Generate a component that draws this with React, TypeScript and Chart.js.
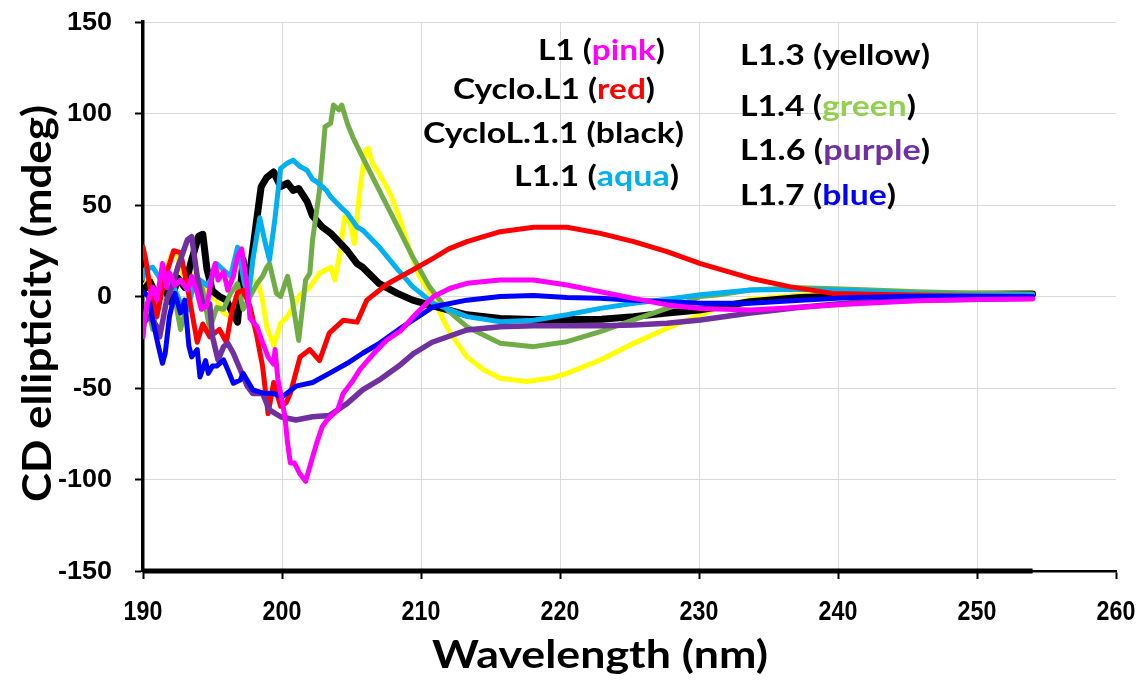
import React, { useEffect, useRef } from "react";
import { Chart, registerables } from "chart.js";

Chart.register(...registerables);

// ---- Data (wavelength nm / CD ellipticity mdeg) ----
const pinkX = [190, 190.1, 190.3, 190.7, 191.0, 191.4, 191.7, 191.9, 192.3, 192.7, 193.2, 193.5, 193.9, 194.2, 194.6, 195.0, 195.2, 195.4, 195.8, 196.1, 196.5, 196.8, 197.1, 197.5, 197.7, 198.2, 198.6, 199.0, 199.4, 199.5, 199.7, 200.0, 200.2, 200.4, 200.6, 200.9, 201.3, 201.7, 202.0, 202.5, 202.9, 203.3, 204.0, 204.4, 205.1, 205.6, 206.5, 207.5, 208.5, 209.7, 210.9, 212.1, 213.3, 215.7, 218.1, 220.5, 222.9, 225.3, 227.7, 230.1, 233.7, 237.3, 240.9, 245.7, 250, 254];
const pinkY = [-22, -13, -4, 5, -2, 18, 5, 13, 6, 9, 3.5, 11, 2, -7, -5, 13, 18, 9, 13.5, 3.5, 11, 22, 26, 5, -12, -16.5, -25, -33, -37, -29, -45, -57, -65, -80, -91, -91, -97, -101, -93, -80, -71, -67, -62, -53, -46, -40, -32, -24, -19, -9, 0, 4.5, 7.2, 9, 9, 6.3, 2.6, -1, -4.6, -6.5, -7.4, -5.9, -4.1, -2.3, -1.6, -1.4];

const redX = [190, 190.2, 190.5, 191, 191.5, 192.2, 192.7, 193.2, 193.9, 194.3, 194.8, 195.5, 196, 196.4, 196.8, 197.2, 197.7, 198.2, 198.6, 199, 199.4, 199.9, 200.3, 200.6, 201.3, 202, 202.7, 203.4, 204.4, 205.4, 206.1, 207.6, 209.4, 210.9, 212, 213.3, 215.7, 218.1, 220.5, 222.9, 225.3, 227.7, 230.1, 233.7, 236.5, 239.6, 245, 250, 254];
const redY = [27, 20, 5, -11, 8, 25, 24, 5, -25, -15, -22, -18, -25, -8, 2, 3.5, -5.5, -22, -38, -64, -47, -60, -58, -53, -33, -29, -35, -20, -13, -14, -2, 7, 14.5, 21, 26, 30, 35.4, 37.8, 37.8, 34.5, 30, 24.5, 18, 10, 5.4, 1.7, 0.8, 0.3, 0];

const blackX = [190, 190.5, 191, 191.5, 192, 192.5, 193, 193.5, 194, 194.3, 194.6, 195, 195.5, 196, 196.5, 196.8, 197.2, 197.5, 197.8, 198.2, 198.5, 198.9, 199.4, 199.9, 200.4, 200.8, 201.2, 201.8, 202.2, 202.9, 203.5, 204.2, 204.7, 205.4, 205.8, 207, 208.3, 209.4, 210.6, 212, 213.3, 215.7, 218, 220.5, 223, 225.3, 227.7, 230, 233.7, 237.3, 241, 245, 250, 254];
const blackY = [3, 8, 0, 5, -3, 10, 5, 20, 33, 34, 15, 3, 0, -2, -10, -14, 20, 2, 20, 43, 60, 65, 68, 60, 62, 58, 59, 52, 44, 38, 34.6, 29, 25, 18, 16, 7, 1.7, -2, -4.6, -7.4, -10, -12, -12.5, -12.5, -12.4, -11, -9, -7.4, -2.8, -0.5, 0.3, 1, 1.2, 1.4];

const aquaX = [190, 190.1, 190.7, 191.2, 191.7, 192.2, 192.7, 193.2, 193.6, 194.1, 194.6, 195, 195.3, 195.8, 196.3, 196.8, 197.3, 197.6, 197.9, 198.4, 198.8, 199.1, 199.5, 199.9, 200.4, 200.8, 201.3, 201.8, 202.2, 202.5, 203.2, 203.5, 204.2, 204.7, 205.4, 205.8, 207, 208.3, 209.4, 210.6, 210.9, 213.3, 215.7, 218.1, 220.5, 222.9, 225.3, 227.7, 230.1, 233.7, 237.3, 240.9, 245.7, 250, 254];
const aquaY = [10, 14.5, 16, 10, 14.5, 5.4, -3.6, -7.4, 5, 9, 6, 10.8, 18, 14.5, 11, 27, 7, 0, 20, 43, 29, 20, 43, 70, 73, 74.5, 71, 69, 64, 62.7, 58, 54.5, 49, 45.5, 38, 36.3, 27, 15, 5.4, -2, -3.7, -11, -13.8, -13, -10, -6.5, -3.7, -1.5, 1, 3.5, 3.9, 3.3, 1.7, 1, 0.8];

const yellowX = [190, 190.5, 191, 191.5, 192, 192.4, 192.8, 193.3, 193.8, 194.3, 194.8, 195.3, 195.8, 196.3, 196.8, 197.4, 197.9, 198.3, 198.6, 198.9, 199.4, 199.9, 200.4, 200.8, 201.3, 202, 202.7, 203.5, 203.8, 204.2, 204.5, 204.9, 205.2, 205.6, 206, 206.2, 206.5, 207, 207.8, 208.5, 209.2, 209.9, 210.9, 211.6, 212.1, 213.3, 214.5, 215.7, 217.6, 219.3, 220.5, 222.9, 225.3, 227.7, 230.1, 231.3, 233.7, 237.3, 241, 250, 254];
const yellowY = [5, 10, 2, 12, 22, 24, 10, 15, 5, 8, 0, -2, -9, -11, -5, 3, 9, 7, -2, -16.5, -27, -14.6, -11, -5.6, 1, 5, 12.7, 16, 9, 25, 43.6, 40, 29, 58, 80, 81, 73, 67, 56, 42, 25, 10.8, -1, -12.8, -20, -33, -40, -44.7, -46.5, -44.7, -42, -34.7, -25.6, -17.4, -10, -6.5, -1.5, 0.8, 1.4, 1.7, 1.5];

const greenX = [190, 190.3, 190.7, 191.2, 191.5, 192.2, 192.7, 193.4, 193.9, 194.3, 194.8, 195.3, 195.8, 196.3, 196.8, 197.2, 197.7, 198.2, 198.6, 198.9, 199.1, 199.6, 199.9, 200.4, 200.7, 201.2, 201.7, 202, 202.2, 202.7, 203.1, 203.5, 203.7, 204.1, 204.3, 204.7, 205.1, 205.8, 207, 208.4, 209.4, 210.6, 211.9, 213.3, 215.7, 218.1, 220.5, 222.9, 225.3, 227.7, 228.9, 230.1, 231.3, 233.7, 237.3, 240.9, 245.7, 250, 254];
const greenY = [-20, -5.6, -18, 0, 7, 3, -18, 2, 11, 3.5, -18, -6, -7, 1.8, 7, -7, 0, 7, 11, 16, 18, 1.7, 0, 11, 0, -24, 9, 12.7, 31, 58, 92.8, 94.6, 104.6, 102, 104.6, 94.6, 87, 76, 58, 37, 21.7, 5.4, -7.4, -16.5, -25.6, -27.4, -24.7, -19.2, -12.8, -6.5, -3.7, 0, 0.8, 3.5, 4.8, 4, 2.6, 1.8, 1.4];

const purpleX = [190, 190.4, 190.8, 191, 191.2, 191.7, 192.2, 192.5, 193.2, 193.5, 193.9, 194.3, 194.8, 195, 195.4, 195.8, 196.1, 196.5, 197, 197.5, 197.9, 198.6, 199.1, 199.9, 201, 202.2, 203.4, 204.7, 205.8, 207, 208.4, 209.5, 210.8, 213.3, 215.7, 218.1, 222.9, 225.3, 227.7, 230.1, 233.7, 237.3, 240.9, 245.7, 250, 254];
const purpleY = [-15, -11, -14, -16.5, -22, -2, 8, 16, 31, 32.7, 11, -3.7, -4, -22, -34.7, -27.4, -25.6, -31, -40, -49, -53, -53, -62, -65.7, -67.5, -65.7, -65, -58.4, -51, -45.6, -38, -31, -25, -18.3, -16.5, -16, -16, -15.6, -14.6, -12.8, -9, -5.9, -3.4, -2, -1.5, -1];

const blueX = [190, 190.4, 190.7, 191.1, 191.4, 191.6, 191.9, 192.3, 192.7, 193, 193.3, 193.5, 193.9, 194.1, 194.5, 194.7, 195, 195.3, 195.8, 196.1, 196.5, 197, 197.2, 197.9, 198.6, 199.4, 200, 201, 202.2, 203.4, 204.7, 205.8, 207, 208.4, 209.5, 210.9, 213.3, 215.7, 218.1, 220.5, 222.9, 225.3, 227.7, 230.1, 233.7, 237.3, 240.9, 245, 250, 254];
const blueY = [2.6, 0, -12.8, -27, -36.5, -31, -11, 1.7, -9, -2, -27, -33, -29, -44, -35, -42, -38, -38, -34.7, -40, -47.4, -45.6, -42, -51, -52.7, -53, -55, -49, -47, -42, -36.5, -31, -25.6, -18, -12.5, -5.6, -2, 0, 0.5, -0.5, -1, -2, -2.8, -3.7, -3.7, -2, -0.5, 0, 0, 0];

const xTicks = [190, 200, 210, 220, 230, 240, 250, 260];
const yTicks = [-150, -100, -50, 0, 50, 100, 150];

const seriesNames = ["L1", "L1.7", "L1.6", "Cyclo.L1", "L1.1", "L1.4", "CycloL.1.1", "L1.3"];
const seriesColors = ["#FF00FF", "#0000FF", "#7030A0", "#FF0000", "#00B0F0", "#70AD47", "#000000", "#FFFF00"];
const seriesWidths = [5, 5, 5.5, 5, 5, 5, 7, 5];
const seriesXs = [pinkX, blueX, purpleX, redX, aquaX, greenX, blackX, yellowX];
const seriesYs = [pinkY, blueY, purpleY, redY, aquaY, greenY, blackY, yellowY];

// Legend text (drawn as annotations inside the plot)
const legendLabels = ["L1", "Cyclo.L1", "CycloL.1.1", "L1.1", "L1.3", "L1.4", "L1.6", "L1.7"];
const legendWords = ["pink", "red", "black", "aqua", "yellow", "green", "purple", "blue"];
const legendWordColors = ["#FF00FF", "#FF0000", "#000000", "#00B0F0", "#000000", "#92D050", "#7030A0", "#0000FF"];
const legendLeft = [538, 453, 423, 514, 740, 740, 740, 740];
const legendRight = [665, 655, 684, 679, 930, 916, 930, 896];
const legendCenterY = [49, 88, 132, 175, 54, 105, 149, 194];

const TEXT_FONT = "Lato, 'Open Sans', sans-serif";
const TICK_FONT = "'Liberation Sans', Arial, sans-serif";

type Part = [string, string];

function drawRich(ctx: CanvasRenderingContext2D, parts: Part[], left: number, right: number, baseline: number, font: string) {
  ctx.save();
  ctx.font = font;
  ctx.textAlign = "left";
  ctx.textBaseline = "alphabetic";
  const widths = parts.map(([t]) => ctx.measureText(t).width);
  const total = widths.reduce((a, b) => a + b, 0);
  const sx = (right - left) / total;
  ctx.translate(left, baseline);
  ctx.scale(sx, 1);
  let x = 0;
  parts.forEach(([t, c], i) => {
    ctx.fillStyle = c;
    ctx.fillText(t, x, 0);
    x += widths[i];
  });
  ctx.restore();
}

const textPlugin = {
  id: "cdText",
  afterDatasetsDraw(chart: any) {
    // thick bottom axis segment under the measured range
    const ctx: CanvasRenderingContext2D = chart.ctx;
    const xs = chart.scales.x;
    const ys = chart.scales.y;
    const dataMax = Math.max(...seriesXs.map((a) => a[a.length - 1]));
    ctx.save();
    ctx.strokeStyle = "#000";
    ctx.lineWidth = 5;
    ctx.beginPath();
    ctx.moveTo(xs.getPixelForValue(190), ys.bottom);
    ctx.lineTo(xs.getPixelForValue(dataMax), ys.bottom);
    ctx.stroke();
    ctx.restore();
  },
  afterDraw(chart: any) {
    const ctx: CanvasRenderingContext2D = chart.ctx;
    const xs = chart.scales.x;
    const ys = chart.scales.y;

    // x tick labels (condensed)
    ctx.save();
    ctx.font = `bold 28px ${TICK_FONT}`;
    ctx.fillStyle = "#000";
    ctx.textAlign = "center";
    ctx.textBaseline = "alphabetic";
    xTicks.forEach((v) => {
      const px = xs.getPixelForValue(v);
      ctx.save();
      ctx.translate(px, ys.bottom + 49);
      ctx.scale(0.83, 1);
      ctx.fillText(String(v), 0, 0);
      ctx.restore();
    });
    ctx.restore();

    // y tick labels
    ctx.save();
    ctx.font = `bold 25px ${TICK_FONT}`;
    ctx.fillStyle = "#000";
    ctx.textAlign = "right";
    ctx.textBaseline = "middle";
    yTicks.forEach((v) => {
      ctx.save();
      ctx.translate(112, ys.getPixelForValue(v) + 1);
      ctx.scale(1.08, 1);
      ctx.fillText(String(v), 0, 0);
      ctx.restore();
    });
    ctx.restore();

    // legend annotations
    legendLabels.forEach((lab, i) => {
      const parts: Part[] = [
        [lab + " (", "#000"],
        [legendWords[i], legendWordColors[i]],
        [")", "#000"],
      ];
      drawRich(ctx, parts, legendLeft[i], legendRight[i], legendCenterY[i] + 10.5, `bold 29px ${TEXT_FONT}`);
    });

    // x title
    drawRich(ctx, [["Wavelength (nm)", "#000"]], 432, 768, 668, `bold 39px ${TEXT_FONT}`);

    // y title (rotated)
    ctx.save();
    ctx.translate(51, 502);
    ctx.rotate(-Math.PI / 2);
    drawRich(ctx, [["CD ellipticity (mdeg)", "#000"]], 0, 397, 0, `bold 40px ${TEXT_FONT}`);
    ctx.restore();
  },
};

export default function App() {
  const canvasRef = useRef<HTMLCanvasElement | null>(null);

  useEffect(() => {
    const canvas = canvasRef.current;
    if (!canvas) return;
    const datasets = seriesNames.map((name, i) => ({
      label: name,
      data: seriesXs[i].map((x, j) => ({ x, y: seriesYs[i][j] })),
      borderColor: seriesColors[i],
      backgroundColor: seriesColors[i],
      borderWidth: seriesWidths[i],
      pointRadius: 0,
      tension: 0,
      fill: false,
      borderJoinStyle: "round" as const,
      borderCapStyle: "round" as const,
    }));

    const chart = new Chart(canvas, {
      type: "line",
      data: { datasets },
      options: {
        animation: false,
        responsive: false,
        maintainAspectRatio: false,
        layout: { padding: { top: 22, right: 31, left: 0, bottom: 0 } },
        plugins: {
          legend: { display: false },
          tooltip: { enabled: false },
          title: { display: false },
        },
        scales: {
          x: {
            type: "linear",
            min: 190,
            max: 260,
            afterBuildTicks: (scale: any) => {
              scale.ticks = xTicks.map((v) => ({ value: v }));
            },
            afterFit: (scale: any) => {
              scale.height = 109;
            },
            ticks: { display: false },
            grid: {
              color: (c: any) => (c.tick && (c.tick.value === 260 || c.tick.value === 190) ? "rgba(0,0,0,0)" : "#D9D9D9"),
              lineWidth: 1,
              drawTicks: true,
              tickLength: 8,
              tickWidth: 2,
              tickColor: "#000",
            },
            border: { display: true, color: "#000", width: 2.5 },
          },
          y: {
            type: "linear",
            min: -150,
            max: 150,
            afterBuildTicks: (scale: any) => {
              scale.ticks = yTicks.map((v) => ({ value: v }));
            },
            afterFit: (scale: any) => {
              scale.width = 143;
            },
            ticks: { display: false },
            grid: {
              color: (c: any) => (c.tick && c.tick.value === -150 ? "rgba(0,0,0,0)" : "#D9D9D9"),
              lineWidth: 1,
              drawTicks: true,
              tickLength: 8,
              tickWidth: 2,
              tickColor: "#000",
            },
            border: { display: true, color: "#000", width: 3.5 },
          },
        },
      } as any,
      plugins: [textPlugin],
    });

    return () => {
      chart.destroy();
    };
  }, []);

  return (
    <div style={{ position: "absolute", left: 0, top: 0, width: 1147, height: 680, background: "#fff" }}>
      <canvas ref={canvasRef} width={1147} height={680} style={{ display: "block", width: 1147, height: 680 }} />
    </div>
  );
}
